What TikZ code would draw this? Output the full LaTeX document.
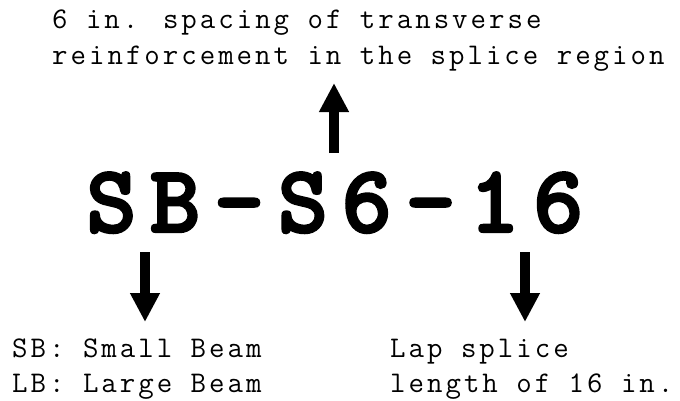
\documentclass[tikz,border=0pt]{standalone}
\usepackage{fontspec}
\newfontfamily\lblfont{Latin Modern Mono}[LetterSpace=10]
\newfontfamily\bigfont{lmmonolt10-bold.otf}[LetterSpace=14,FakeBold=2.5]
\usetikzlibrary{arrows.meta}
\begin{document}
\begin{tikzpicture}[x=1pt,y=-1pt,
  lbl/.style={inner sep=0pt,anchor=base west,font=\lblfont\fontsize{30}{36}\selectfont},
  big/.style={inner sep=0pt,anchor=base west,font=\bigfont\fontsize{96}{110}\selectfont},
  fatarrow/.style={line width=10pt,-{Triangle[length=29pt,width=28pt]}}]
\useasboundingbox (0,0) rectangle (680,400);
\node[big] (code) at (86,232) {SB-S6-16};
\node[lbl] (t1) at (52,28) {6 in. spacing of transverse};
\node[lbl] (t2) at (52,64) {reinforcement in the splice region};
\node[lbl] (l1) at (12,357) {SB: Small Beam};
\node[lbl] (l2) at (12,392) {LB: Large Beam};
\node[lbl] (r1) at (390,357) {Lap splice};
\node[lbl] (r2) at (390,392) {length of 16 in.};
\coordinate (upS) at (334,153);
\coordinate (upE) at (334,83);
\coordinate (lS) at (145,252);
\coordinate (lE) at (145,322);
\coordinate (rS) at (525,252);
\coordinate (rE) at (525,322);
\draw[fatarrow] (upS) -- (upE);
\draw[fatarrow] (lS) -- (lE);
\draw[fatarrow] (rS) -- (rE);
\end{tikzpicture}
\end{document}
